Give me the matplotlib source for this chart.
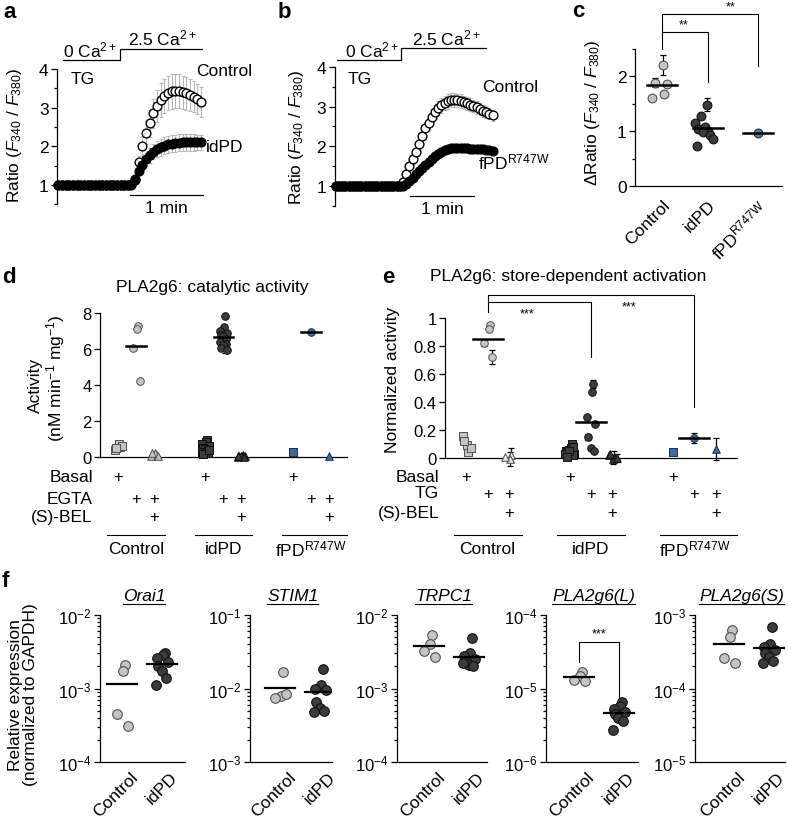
import numpy as np
import matplotlib
matplotlib.use("Agg")
import matplotlib.pyplot as plt
from matplotlib.lines import Line2D
from matplotlib.ticker import LogLocator, NullFormatter
from matplotlib.transforms import ScaledTranslation

plt.rcParams['font.family'] = ['Liberation Sans', 'DejaVu Sans']
plt.rcParams['mathtext.fontset'] = 'custom'
plt.rcParams['mathtext.rm'] = 'Liberation Sans'
plt.rcParams['mathtext.it'] = 'Liberation Sans:italic'
plt.rcParams['mathtext.bf'] = 'Liberation Sans:bold'
plt.rcParams['axes.linewidth'] = 0.9

# ---------------- data ----------------
# a: Fura-2 ratio, 3 s sampling
t_a = np.arange(40) * 3.0
ratio_ctrl_a = [1.01, 1.00, 1.00, 1.01, 1.00, 1.00, 1.01, 1.00, 1.00, 1.00,
                1.01, 1.00, 1.00, 1.00, 1.01, 1.00, 1.00, 1.01, 1.00, 1.00, 1.02,
                1.15, 1.60, 2.00, 2.35, 2.60, 2.85, 3.05, 3.20, 3.30, 3.38,
                3.42, 3.43, 3.42, 3.40, 3.37, 3.33, 3.28, 3.22, 3.15]
err_ctrl_a = [0.02] * 21 + [0.08, 0.16, 0.24, 0.30, 0.35, 0.38, 0.41, 0.43, 0.44, 0.45,
                            0.45, 0.45, 0.44, 0.43, 0.42, 0.41, 0.40, 0.39, 0.38]
ratio_idpd_a = [1.00, 1.00, 1.01, 1.00, 1.00, 1.00, 1.01, 1.00, 1.00, 1.01,
                1.00, 1.00, 1.00, 1.01, 1.00, 1.00, 1.00, 1.01, 1.00, 1.00, 1.01,
                1.12, 1.35, 1.52, 1.66, 1.77, 1.86, 1.93, 1.98, 2.02, 2.05,
                2.07, 2.08, 2.09, 2.10, 2.10, 2.10, 2.10, 2.10, 2.10]
err_idpd_a = [0.02] * 21 + [0.05, 0.10, 0.14, 0.17, 0.19, 0.20, 0.21, 0.22, 0.22, 0.22,
                            0.22, 0.22, 0.22, 0.22, 0.21, 0.21, 0.21, 0.20, 0.20]

# b
t_b = np.arange(50) * 3.0
ratio_ctrl_b = [1.00, 1.01, 1.00, 1.00, 1.01, 1.00, 1.00, 1.00, 1.01, 1.00,
                1.00, 1.01, 1.00, 1.00, 1.00, 1.01, 1.00, 1.00, 1.01, 1.00, 1.01,
                1.10, 1.30, 1.50, 1.68, 1.85, 2.05, 2.25, 2.45, 2.60, 2.75,
                2.87, 2.96, 3.03, 3.09, 3.13, 3.16, 3.17, 3.16, 3.14, 3.11,
                3.08, 3.05, 3.02, 2.98, 2.94, 2.90, 2.86, 2.82, 2.78]
err_ctrl_b = [0.02] * 21 + [0.04, 0.07, 0.10, 0.12, 0.14, 0.15, 0.16, 0.17, 0.17, 0.18,
                            0.18, 0.18, 0.18, 0.18, 0.18, 0.18, 0.18, 0.17, 0.17, 0.17,
                            0.17, 0.16, 0.16, 0.16, 0.15, 0.15, 0.15, 0.14, 0.14]
ratio_fpd_b = [1.00, 1.00, 1.01, 1.00, 1.00, 1.00, 1.01, 1.00, 1.00, 1.00,
               1.01, 1.00, 1.00, 1.00, 1.01, 1.00, 1.00, 1.00, 1.01, 1.00, 1.00,
               1.00, 1.05, 1.12, 1.20, 1.30, 1.38, 1.46, 1.53, 1.60, 1.68,
               1.75, 1.81, 1.86, 1.90, 1.93, 1.95, 1.96, 1.96, 1.96, 1.95,
               1.95, 1.94, 1.94, 1.93, 1.92, 1.92, 1.91, 1.90, 1.89]
err_fpd_b = [0.02] * 21 + [0.02, 0.04, 0.05, 0.06, 0.07, 0.08, 0.09, 0.09, 0.10, 0.10,
                           0.10, 0.10, 0.10, 0.10, 0.10, 0.10, 0.10, 0.10, 0.10, 0.10,
                           0.10, 0.10, 0.10, 0.10, 0.10, 0.10, 0.10, 0.10, 0.10]

# c: delta ratio per experiment
c_groups = ['Control', 'idPD', 'fPD$^{\\mathregular{R747W}}$']
c_ctrl = [1.60, 1.88, 2.20, 1.68, 1.85]
c_ctrl_err = [0.0, 0.08, 0.18, 0.0, 0.0]
c_idpd = [1.48, 1.28, 1.15, 1.08, 1.00, 1.03, 0.98, 0.93, 0.86, 0.73]
c_idpd_err = [0.12, 0, 0, 0, 0, 0, 0, 0, 0, 0]
c_fpd = [0.96]

# d: catalytic activity (nM/min/mg); (basal, EGTA, EGTA + (S)-BEL)
d_ctrl = ([0.55, 0.70, 0.40, 0.62, 0.48], [7.30, 7.10, 6.05, 4.20], [0.15, 0.25, 0.08, 0.05, 0.20])
d_idpd = ([0.95, 0.85, 0.75, 0.60, 0.50, 0.42, 0.35, 0.30, 0.25, 0.20, 0.15, 0.40],
          [7.85, 7.20, 7.00, 6.90, 6.80, 6.70, 6.55, 6.40, 6.30, 6.20, 6.05, 5.95],
          [0.10, 0.05, 0.02, 0.08, 0.03, 0.06, 0.01, 0.04])
d_fpd = ([0.30], [6.92], [0.08])

# e: normalized activity; (basal, TG, TG + (S)-BEL)
e_ctrl = ([0.045, 0.09, 0.16, 0.075, 0.12], [0.95, 0.92, 0.82, 0.72], [0.02, -0.01, 0.01])
e_ctrl_err = ([0, 0, 0, 0, 0], [0, 0, 0.02, 0.05], [0.05, 0.05, 0])
e_idpd = ([0.10, 0.07, 0.05, 0.03, 0.04, 0.06, 0.02, 0.03, 0.08, 0.05, 0.01],
          [0.53, 0.47, 0.29, 0.24, 0.15, 0.07, 0.05],
          [0.01, -0.01, 0.02, 0.00, 0.03])
e_idpd_err = ([0] * 11, [0.03, 0, 0, 0, 0.02, 0, 0], [0.04, 0.03, 0, 0.03, 0])
e_fpd = ([0.045], [0.145], [0.065])
e_fpd_err = ([0], [0.035], [0.08])

group_names = ['Control', 'idPD', 'fPD$^{\\mathregular{R747W}}$']

# f: qPCR relative expression
f_genes = ['Orai1', 'STIM1', 'TRPC1', 'PLA2g6(L)', 'PLA2g6(S)']
f_ctrl = [[2.1e-3, 1.75e-3, 4.5e-4, 3.1e-4],
          [1.7e-2, 8.0e-3, 7.5e-3, 8.5e-3],
          [5.3e-3, 4.0e-3, 3.2e-3, 2.7e-3],
          [1.7e-5, 1.5e-5, 1.3e-5, 1.25e-5],
          [6.2e-4, 5.0e-4, 2.6e-4, 2.2e-4]]
f_idpd = [[3.0e-3, 2.9e-3, 2.6e-3, 2.3e-3, 2.0e-3, 1.75e-3, 1.4e-3, 1.1e-3],
          [1.85e-2, 1.1e-2, 1.0e-2, 9.5e-3, 6.5e-3, 5.5e-3, 5.0e-3, 4.8e-3],
          [4.9e-3, 3.0e-3, 2.8e-3, 2.5e-3, 2.3e-3, 2.1e-3, 2.0e-3, 2.2e-3],
          [6.6e-6, 5.8e-6, 5.2e-6, 4.8e-6, 4.5e-6, 4.0e-6, 3.6e-6, 2.75e-6],
          [6.9e-4, 4.0e-4, 3.7e-4, 3.3e-4, 3.0e-4, 2.7e-4, 2.4e-4, 2.2e-4]]
f_top_decade = [-2, -1, -2, -4, -3]

# ---------------- styles ----------------
C_LIGHT, C_LIGHT_E = '#c4c4c4', '#505050'
C_DARK, C_DARK_E = '#3c3c3c', '#101010'
C_BLUE, C_BLUE_E = '#41689c', '#1c2f48'
ERR_GRAY = '#b8b8b8'
FS = 12.5

W, H = 788, 820
fig = plt.figure(figsize=(W / 100, H / 100), dpi=100)


def add_ax(left, top, right, bottom):
    return fig.add_axes([left / W, 1 - bottom / H, (right - left) / W, (bottom - top) / H])


def ftext(x, y, s, **kw):
    return fig.text(x / W, 1 - y / H, s, **kw)


def strip(ax, bottom=True, size=FS):
    ax.spines['top'].set_visible(False)
    ax.spines['right'].set_visible(False)
    if not bottom:
        ax.spines['bottom'].set_visible(False)
    ax.tick_params(axis='both', direction='out', length=4, width=0.9, pad=2, labelsize=size)
    ax.tick_params(axis='y', which='minor', length=2.5, width=0.9)
    ax.patch.set_alpha(0)


def shift_labels(ax, dx, dy):
    off = ScaledTranslation(dx / 100, dy / 100, fig.dpi_scale_trans)
    for lab in ax.get_xticklabels():
        lab.set_transform(lab.get_transform() + off)


def spread(n, w):
    # deterministic horizontal scatter for dot plots
    return w * np.sin(np.arange(n) * 2.4 + 0.5)


# ---------------- a & b: time courses ----------------
def trace_panel(ax, t, ctrl, ctrl_err, pat, pat_err):
    ax.errorbar(t, ctrl, yerr=ctrl_err, fmt='none', ecolor=ERR_GRAY, elinewidth=0.8,
                capsize=1.5, capthick=0.8, zorder=1, clip_on=False)
    ax.errorbar(t, pat, yerr=pat_err, fmt='none', ecolor=ERR_GRAY, elinewidth=0.8,
                capsize=1.5, capthick=0.8, zorder=1, clip_on=False)
    ax.plot(t, ctrl, 'o', ms=6.3, mfc='white', mec='black', mew=1.0, clip_on=False, zorder=3)
    ax.plot(t, pat, 'o', ms=6.3, mfc='black', mec='black', mew=1.0, clip_on=False, zorder=4)
    strip(ax, bottom=False)
    ax.set_xticks([])
    ax.set_ylim(0.5, 4.05)
    ax.spines['left'].set_bounds(0.5, 4)
    ax.set_yticks([1, 2, 3, 4])
    ax.set_yticks([0.5, 1.5, 2.5, 3.5], minor=True)


# a
ax_a = add_ax(57, 68, 212, 205.3)
ax_a.set_xlim(-1.2, -1.2 + 155 / 1.2167)
trace_panel(ax_a, t_a, ratio_ctrl_a, err_ctrl_a, ratio_idpd_a, err_idpd_a)
ax_a.plot([3.7, 50.5, 50.5, 118], [4.23, 4.23, 4.52, 4.52], color='black', lw=0.9, clip_on=False)
ax_a.text(3.7, 4.32, '0 Ca$^{2+}$', fontsize=FS, ha='left', va='baseline')
ax_a.text(57, 4.63, '2.5 Ca$^{2+}$', fontsize=FS, ha='left', va='baseline')
ax_a.text(10, 3.74, 'TG', fontsize=FS, ha='left', va='center')
ax_a.text(113, 3.95, 'Control', fontsize=FS, ha='left', va='center')
ax_a.text(121, 2.0, 'idPD', fontsize=FS, ha='left', va='center')
ax_a.plot([58.8, 118.8], [0.74, 0.74], color='black', lw=0.9, clip_on=False)
ax_a.text(88.8, 0.62, '1 min', fontsize=FS, ha='center', va='top')

# b
ax_b = add_ax(334.5, 66, 500, 206.8)
ax_b.set_xlim(-1.2, -1.2 + 165.5 / 1.0667)
trace_panel(ax_b, t_b, ratio_ctrl_b, err_ctrl_b, ratio_fpd_b, err_fpd_b)
ax_b.plot([1.1, 61, 61, 140.8], [4.18, 4.18, 4.48, 4.48], color='black', lw=0.9, clip_on=False)
ax_b.text(8.6, 4.27, '0 Ca$^{2+}$', fontsize=FS, ha='left', va='baseline')
ax_b.text(71.4, 4.58, '2.5 Ca$^{2+}$', fontsize=FS, ha='left', va='baseline')
ax_b.text(11, 3.72, 'TG', fontsize=FS, ha='left', va='center')
ax_b.text(137, 3.52, 'Control', fontsize=FS, ha='left', va='center')
ftext(478, 162, 'fPD$^{\\mathregular{R747W}}$', fontsize=FS, ha='left', va='center')
ax_b.plot([69.6, 129.6], [0.75, 0.75], color='black', lw=0.9, clip_on=False)
ax_b.text(99.6, 0.63, '1 min', fontsize=FS, ha='center', va='top')

ratio_label = 'Ratio ($F_{340}$ / $F_{380}$)'
ftext(15, 135, ratio_label, fontsize=FS, rotation=90, ha='center', va='center')
ftext(297, 137, ratio_label, fontsize=FS, rotation=90, ha='center', va='center')

# ---------------- c ----------------
ax_c = add_ax(635, 49.5, 782, 187)
strip(ax_c)
ax_c.set_xlim(-0.5625, 2.5)
ax_c.set_ylim(0, 2.5)
ax_c.set_yticks([0, 1, 2])
ax_c.set_yticks([0.5, 1.5, 2.5], minor=True)
jit_ctrl = [-0.21, -0.15, 0.02, 0.04, 0.10]
jit_idpd = [-0.03, -0.14, -0.28, -0.07, 0.0, -0.21, -0.10, 0.03, 0.10, -0.24]
for xpos, vals, errs, jit, fc, ec in [(0, c_ctrl, c_ctrl_err, jit_ctrl, C_LIGHT, C_LIGHT_E),
                                     (0.96, c_idpd, c_idpd_err, jit_idpd, C_DARK, C_DARK_E),
                                     (2, c_fpd, [0], [0], '#5a7aa3', C_BLUE_E)]:
    xs = xpos + np.array(jit)
    e = np.array(errs)
    ax_c.errorbar(xs[e > 0], np.array(vals)[e > 0], yerr=e[e > 0], fmt='none', ecolor='black',
                  elinewidth=0.9, capsize=2.5, capthick=0.9, zorder=2)
    ax_c.scatter(xs, vals, s=40, c=fc, edgecolors=ec, linewidths=0.8, zorder=3, clip_on=False)
    m = np.mean(vals)
    ax_c.plot([xpos - 0.31, xpos + 0.31], [m, m], color='black', lw=1.8, zorder=4)
ax_c.set_xticks([0, 0.96, 2])
ax_c.set_xticklabels(c_groups, rotation=45, ha='right', rotation_mode='anchor', fontsize=FS)
ax_c.tick_params(axis='x', length=0, pad=8)
shift_labels(ax_c, 0, 0)
ax_c.plot([0, 0, 2, 2], [2.49, 3.13, 3.13, 2.18], color='black', lw=0.8, clip_on=False)
ax_c.plot([0, 0.96, 0.96], [2.8, 2.8, 1.89], color='black', lw=0.8, clip_on=False)
ax_c.text(0.44, 2.83, '**', fontsize=9, ha='center', va='bottom')
ax_c.text(1.42, 3.16, '**', fontsize=9, ha='center', va='bottom')
ftext(593, 113, '$\\Delta$Ratio ($F_{340}$ / $F_{380}$)', fontsize=FS, rotation=90,
      ha='center', va='center')

# ---------------- d & e ----------------
group_x = [0.0, 4.85, 9.7]
shapes = ['s', 'o', '^']


def activity_panel(ax, groups, errs, colors, mean_w, jit_w, row_labels, row_y, line_y, name_y, lab_x):
    for g, (vals3, err3, (fc, ec)) in enumerate(zip(groups, errs, colors)):
        for k in range(3):
            vals = np.array(vals3[k])
            xs = group_x[g] + k + spread(len(vals), jit_w if len(vals) > 1 else 0)
            fck = fc[k] if isinstance(fc, list) else fc
            e = np.array(err3[k])
            if np.any(e > 0):
                ax.errorbar(xs[e > 0], vals[e > 0], yerr=e[e > 0], fmt='none', ecolor='black',
                            elinewidth=0.9, capsize=2.5, capthick=0.9, zorder=2, clip_on=False)
            ax.scatter(xs, vals, s=30, marker=shapes[k], c=fck, edgecolors=ec, linewidths=0.7,
                       zorder=3, clip_on=False)
            if k == 1:
                m = np.mean(vals)
                ax.plot([group_x[g] + 1 - mean_w, group_x[g] + 1 + mean_w], [m, m],
                        color='black', lw=1.8, zorder=4)
        # condition rows
        plus_rows = [[0], [1, 2], [2]]
        for r, idx in enumerate(plus_rows):
            for k in idx:
                ax.text(group_x[g] + k, row_y[r], '+', fontsize=12, ha='center', va='center')
        right_extra = 0.4 if g == 2 else 0.0
        ax.plot([group_x[g] - 0.6, group_x[g] + 2.6 + right_extra], [line_y, line_y],
                color='black', lw=0.8, clip_on=False)
        ax.text(group_x[g] + 1, name_y, group_names[g], fontsize=FS, ha='center', va='center')
    for r, lab in enumerate(row_labels):
        ax.text(lab_x, row_y[r], lab, fontsize=12.5, ha='right', va='center')
    strip(ax, size=12)
    ax.set_xticks([])
    ax.set_xlim(-1.0, 12.7)


colors_d = [(C_LIGHT, C_LIGHT_E), (C_DARK, C_DARK_E), (C_BLUE, C_BLUE_E)]
zero_err = lambda grp: tuple([0] * len(v) for v in grp)

ax_d = add_ax(100, 314, 347, 458)
activity_panel(ax_d, [d_ctrl, d_idpd, d_fpd], [zero_err(d_ctrl), zero_err(d_idpd), zero_err(d_fpd)],
               colors_d, 0.55, 0.22, ['Basal', 'EGTA', '(S)-BEL'],
               [-1.06, -2.28, -3.3], -4.33, -5.1, -1.39)
ax_d.set_ylim(0, 8)
ax_d.set_yticks([0, 2, 4, 6, 8])
ax_d.errorbar([group_x[1] + 1.1], [6.4], yerr=[0.6], fmt='none', ecolor='black',
              elinewidth=0.9, capsize=2.5, zorder=2)
ftext(212, 288, 'PLA2g6: catalytic activity', fontsize=12.5, ha='center', va='center')
ftext(35, 385, 'Activity', fontsize=12.5, rotation=90, ha='center', va='center')
ftext(56, 378, '(nM min$^{-1}$ mg$^{-1}$)', fontsize=12.5, rotation=90, ha='center', va='center')

colors_e = [([C_LIGHT, C_LIGHT, '#e4e4e4'], C_LIGHT_E), (C_DARK, C_DARK_E), (C_BLUE, C_BLUE_E)]
ax_e = add_ax(445, 319, 737, 459)
activity_panel(ax_e, [e_ctrl, e_idpd, e_fpd], [e_ctrl_err, e_idpd_err, e_fpd_err],
               colors_e, 0.7, 0.2, ['Basal', 'TG', '(S)-BEL'],
               [-0.129, -0.25, -0.386], -0.55, -0.645, -1.27)
ax_e.set_ylim(0, 1)
ax_e.set_yticks([0, 0.2, 0.4, 0.6, 0.8, 1])
ax_e.set_yticklabels(['0', '0.2', '0.4', '0.6', '0.8', '1'])
ftext(568, 277, 'PLA2g6: store-dependent activation', fontsize=12.5, ha='center', va='center')
ax_e.plot([1, 1, 10.7, 10.7], [1.043, 1.164, 1.164, 0.364], color='black', lw=0.8, clip_on=False)
ax_e.plot([1, 5.85, 5.85], [1.114, 1.114, 0.72], color='black', lw=0.8, clip_on=False)
ax_e.text(2.86, 1.03, '***', fontsize=9, ha='center', va='center')
ax_e.text(7.65, 1.086, '***', fontsize=9, ha='center', va='center')
ftext(393, 380, 'Normalized activity', fontsize=12.5, rotation=90, ha='center', va='center')

# ---------------- f ----------------
f_left = [100, 250, 397, 546, 695]
f_width = [85, 82, 90, 92, 90]
f_xl = [-0.55, -0.75, -0.8, -0.82, -0.85]
f_titles = []
f_axes = []
for i, gene in enumerate(f_genes):
    ax = add_ax(f_left[i], 616, f_left[i] + f_width[i], 763)
    ax.set_yscale('log')
    top = 10.0 ** f_top_decade[i]
    ax.set_ylim(top / 100, top)
    ax.set_xlim(f_xl[i], f_xl[i] + f_width[i] / 40)
    for xpos, vals, fc, ec in [(0, f_ctrl[i], C_LIGHT, C_LIGHT_E), (1, f_idpd[i], C_DARK, C_DARK_E)]:
        xs = xpos + spread(len(vals), 0.15)
        ax.scatter(xs, vals, s=48, c=fc, edgecolors=ec, linewidths=0.8, zorder=3, clip_on=False)
        m = np.mean(vals)
        ax.plot([xpos - 0.38, xpos + 0.38], [m, m], color='black', lw=1.6, zorder=4)
    strip(ax, size=12)
    ax.yaxis.set_major_locator(LogLocator(base=10, numticks=5))
    ax.yaxis.set_minor_locator(LogLocator(base=10, subs=np.arange(2, 10), numticks=20))
    ax.yaxis.set_minor_formatter(NullFormatter())
    ax.set_xticks([0, 1])
    ax.set_xticklabels(['Control', 'idPD'], rotation=45, ha='right', rotation_mode='anchor',
                       fontsize=12.5)
    ax.tick_params(axis='x', length=0, pad=5)
    shift_labels(ax, 8, 0)
    f_titles.append(ax.text(0.52, 1.1, gene, transform=ax.transAxes, fontsize=12.5,
                            style='italic', ha='center', va='baseline'))
    f_axes.append(ax)

ax_l = f_axes[3]
ax_l.plot([0, 0, 1, 1], [2.3e-5, 4.3e-5, 4.3e-5, 7.4e-6], color='black', lw=0.8, clip_on=False)
ax_l.text(0.5, 4.6e-5, '***', fontsize=9, ha='center', va='bottom')
ftext(23, 695, 'Relative expression\n(normalized to GAPDH)', fontsize=12.5, rotation=90,
      ha='center', va='center', multialignment='center', linespacing=1.05)

# panel letters
for lx, ly, letter in [(3, 18, 'a'), (278, 18, 'b'), (572, 17, 'c'),
                       (2, 283, 'd'), (382, 283, 'e'), (2, 587, 'f')]:
    ftext(lx, ly, letter, fontsize=16, fontweight='bold', ha='left', va='baseline')

# underline the gene names
fig.canvas.draw()
inv = fig.transFigure.inverted()
for t in f_titles:
    bb = t.get_window_extent()
    (x0, y0), (x1, _) = inv.transform([[bb.x0, bb.y0], [bb.x1, bb.y1]])
    fig.add_artist(Line2D([x0, x1], [y0 - 0.0005, y0 - 0.0005], transform=fig.transFigure,
                          color='black', lw=0.8))

fig.savefig('out.png', dpi=100)
